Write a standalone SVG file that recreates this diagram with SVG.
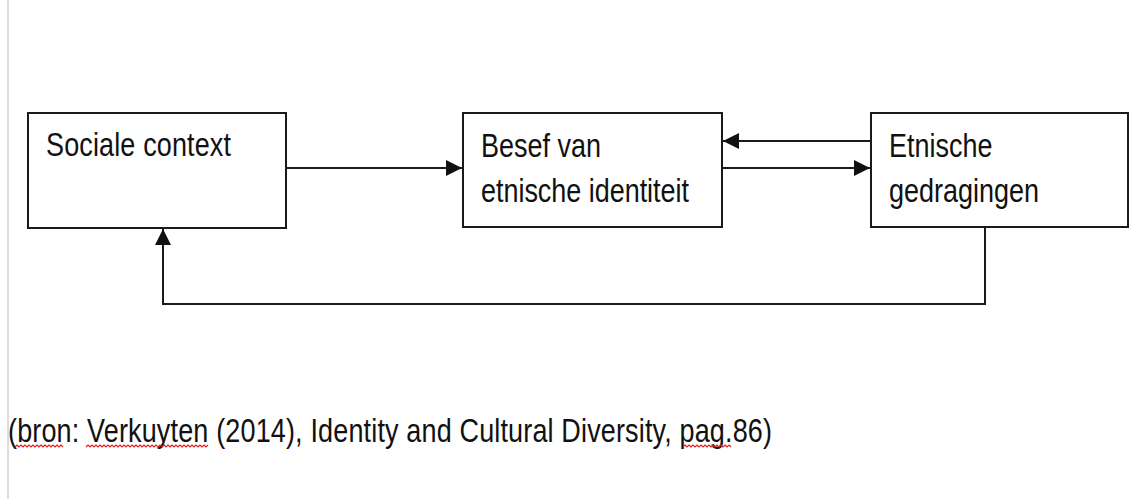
<svg xmlns="http://www.w3.org/2000/svg" width="1129" height="499" viewBox="0 0 1129 499">
<style>
.box{fill:#fff;stroke:#1a1a1a;stroke-width:2}
.lbl{font-family:"Liberation Sans",Arial,sans-serif;font-size:27px;fill:#111}
.con{fill:none;stroke:#1a1a1a;stroke-width:2}
.sq{fill:none;stroke:#e02020;stroke-width:1.2}
</style>
<defs>
<marker id="ah" markerWidth="18" markerHeight="18" viewBox="0 0 18 18" refX="16" refY="9" orient="auto" markerUnits="userSpaceOnUse">
<path d="M0,1 L16,9 L0,17 Z" fill="#111"/>
</marker>
</defs>
<rect width="1129" height="499" fill="#fff"/>
<line x1="8" y1="0" x2="8" y2="499" stroke="#d0d0d0" stroke-width="1.5"/>
<g id="connectors">
<line class="con" x1="286" y1="168" x2="462" y2="168" marker-end="url(#ah)"/>
<line class="con" x1="871" y1="141" x2="723" y2="141" marker-end="url(#ah)"/>
<line class="con" x1="722" y1="168" x2="870" y2="168" marker-end="url(#ah)"/>
<polyline class="con" points="985,228 985,304 163,304 163,229" marker-end="url(#ah)"/>
</g>
<g id="node-sociale">
<rect class="box" x="28" y="113" width="258" height="115"/>
<text class="lbl" transform="translate(46,156) scale(1,1.26)" textLength="185">Sociale context</text>
</g>
<g id="node-besef">
<rect class="box" x="463" y="113" width="259" height="114"/>
<text class="lbl" transform="translate(481,157) scale(1,1.24)">Besef van</text>
<text class="lbl" transform="translate(481,201.5) scale(1,1.24)" textLength="208">etnische identiteit</text>
</g>
<g id="node-etnische">
<rect class="box" x="871" y="113" width="257" height="114"/>
<text class="lbl" transform="translate(889,157) scale(1,1.26)">Etnische</text>
<text class="lbl" transform="translate(889,201.5) scale(1,1.26)">gedragingen</text>
</g>
<g id="source">
<text class="lbl" transform="translate(8,442) scale(1,1.2)" textLength="764">(bron: Verkuyten (2014), Identity and Cultural Diversity, pag.86)</text>
<path class="sq" d="M15,447 l2,-2 l2,2 l2,-2 l2,2 l2,-2 l2,2 l2,-2 l2,2 l2,-2 l2,2 l2,-2 l2,2 l2,-2 l2,2 l2,-2 l2,2 l2,-2 l2,2 l2,-2 l2,2 l2,-2 l2,2 l2,-2 l2,2"/>
<path class="sq" d="M86,447 l2,-2 l2,2 l2,-2 l2,2 l2,-2 l2,2 l2,-2 l2,2 l2,-2 l2,2 l2,-2 l2,2 l2,-2 l2,2 l2,-2 l2,2 l2,-2 l2,2 l2,-2 l2,2 l2,-2 l2,2 l2,-2 l2,2 l2,-2 l2,2 l2,-2 l2,2 l2,-2 l2,2 l2,-2 l2,2 l2,-2 l2,2 l2,-2 l2,2 l2,-2 l2,2 l2,-2 l2,2 l2,-2 l2,2 l2,-2 l2,2 l2,-2 l2,2 l2,-2 l2,2 l2,-2 l2,2 l2,-2 l2,2 l2,-2 l2,2 l2,-2 l2,2 l2,-2 l2,2 l2,-2 l2,2 l2,-2"/>
<path class="sq" d="M683,447 l2,-2 l2,2 l2,-2 l2,2 l2,-2 l2,2 l2,-2 l2,2 l2,-2 l2,2 l2,-2 l2,2 l2,-2 l2,2 l2,-2 l2,2 l2,-2 l2,2 l2,-2 l2,2 l2,-2 l2,2 l2,-2 l2,2"/>
</g>
</svg>
